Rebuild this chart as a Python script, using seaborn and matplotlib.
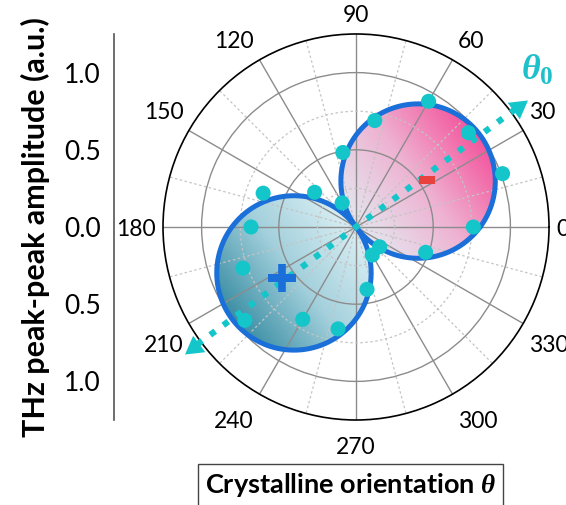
import numpy as np
import matplotlib
matplotlib.use("Agg")
import matplotlib.pyplot as plt
from matplotlib.colors import LinearSegmentedColormap
import seaborn as sns

# Peak-peak THz amplitude measured every 20 degrees of crystalline orientation
ANGLES_DEG = [0, 20, 40, 60, 80, 100, 120, 140, 160,
              180, 200, 220, 240, 260, 280, 300, 320, 340]
AMPLITUDE = [0.76, 1.01, 0.95, 0.94, 0.70, 0.49, 0.18, 0.35, 0.64,
             0.68, 0.78, 0.94, 0.69, 0.67, 0.41, 0.21, 0.20, 0.48]

# |cos(theta - theta0)| fit of the two lobes
FIT_AMPLITUDE = 1.0
THETA0_DEG = 36.5

THETA_TICKS = list(range(0, 360, 30))
THETA_MINOR = list(range(15, 360, 30))
THETA_TICK_LABELS = [str(a) for a in THETA_TICKS]
R_TICKS = [-1.0, -0.5, 0.0, 0.5, 1.0]
R_TICK_LABELS = ["1.0", "0.5", "0.0", "0.5", "1.0"]
R_MINOR = [-1.25, -0.75, -0.25, 0.25, 0.75, 1.25]
R_MAX = 1.25

CYAN = "#14c6c9"
BLUE = "#1b6fd9"
RED = "#e8413e"

sns.set_theme(style="white")
plt.rcParams["font.family"] = ["Lato", "DejaVu Sans"]
plt.rcParams["mathtext.fontset"] = "custom"
plt.rcParams["mathtext.it"] = "Liberation Serif:italic:bold"
plt.rcParams["mathtext.rm"] = "Liberation Serif:bold"
plt.rcParams["mathtext.bf"] = "Liberation Serif:bold"

fig = plt.figure(figsize=(5.66, 5.05), dpi=100)
ax = fig.add_axes([0.2880, 0.1683, 0.6820, 0.7644], projection="polar")

th0 = np.deg2rad(THETA0_DEG)

# gradient-filled lobes, shaded along the lobe axis
pink = LinearSegmentedColormap.from_list("lobe_pos", ["#e4e7f0", "#eeb3d2", "#f3559d"])
teal = LinearSegmentedColormap.from_list("lobe_neg", ["#dbeff4", "#a3d0dc", "#3b8ea4"])
for offset, cmap in ((0.0, pink), (np.pi, teal)):
    axis_dir = th0 + offset
    t = axis_dir + np.linspace(-np.pi / 2, np.pi / 2, 181)
    s = np.linspace(0, 1, 60)
    T, S = np.meshgrid(t, s)
    R = S * FIT_AMPLITUDE * np.cos(T - axis_dir)
    P = R * np.cos(T - axis_dir)
    ax.pcolormesh(T, R, P, cmap=cmap, vmin=0, vmax=FIT_AMPLITUDE,
                  shading="gouraud", zorder=1)

# fitted outline of both lobes
tt = np.linspace(0, 2 * np.pi, 721)
ax.plot(tt, FIT_AMPLITUDE * np.abs(np.cos(tt - th0)), color=BLUE, lw=3.6, zorder=3)

# measured points
sns.scatterplot(x=np.deg2rad(ANGLES_DEG), y=AMPLITUDE, ax=ax, s=118,
                color=CYAN, edgecolor="none", zorder=4, legend=False)

# theta0 axis: dotted double arrow through the origin
ARROW_R = 1.38
line_r = ARROW_R - 0.1
ax.plot([th0 + np.pi, th0 + np.pi, th0, th0], [line_r, 0, 0, line_r],
        color=CYAN, lw=4.5, ls=(0, (1, 1.6)), zorder=5, clip_on=False)
for direction in (th0, th0 + np.pi):
    ax.plot([direction], [ARROW_R - 0.075], marker=(3, 0, np.rad2deg(direction) - 90),
            ms=17, color=CYAN, mec="none", ls="none", zorder=5, clip_on=False)
ax.annotate(r"$\theta_0$", xy=(th0, ARROW_R), xytext=(7, 22), textcoords="offset points",
            ha="center", va="center", fontsize=26, color="#1ec0ca", annotation_clip=False)

# polarity signs of the lobes
ax.plot([th0 + np.pi - np.deg2rad(2)], [0.58], marker="+", ms=20, mew=5.5,
        color=BLUE, ls="none", zorder=6)
ax.plot([th0 - np.deg2rad(3)], [0.55], marker="_", ms=11, mew=4.4,
        color=RED, ls="none", zorder=6)

# polar frame and grid
ax.set_ylim(0, R_MAX)
ax.set_xticks(np.deg2rad(THETA_TICKS))
ax.set_xticks(np.deg2rad(THETA_MINOR), minor=True)
ax.set_xticklabels([])
ax.set_yticks([0.5, 1.0])
ax.set_yticks([0.25, 0.75], minor=True)
ax.set_yticklabels([])
ax.grid(which="major", color="#8c8c8c", lw=1.0, ls="-")
ax.grid(which="minor", color="#c4c4c4", lw=0.9, ls=(0, (2, 2)))
ax.set_axisbelow("line")
ax.spines["polar"].set(color="black", lw=1.2)
ax.tick_params(axis="x", which="both", direction="in", length=5, width=1.0,
               color="black", pad=0)
ax.tick_params(axis="y", which="both", length=0)

# angle labels just outside the frame
for ang, lab in zip(THETA_TICKS, THETA_TICK_LABELS):
    c, s = np.cos(np.deg2rad(ang)), np.sin(np.deg2rad(ang))
    if c > 0.2:
        ha, dx = "left", 4.0
    elif c < -0.2:
        ha, dx = "right", -4.0
    else:
        ha, dx = "center", 0
    if s > 0.2:
        va, dy = "bottom", 5.5
    elif s < -0.2:
        va, dy = "top", -8.5 if abs(c) > 0.6 else -12.0
    else:
        va, dy = "center", -2.0
    if abs(s) < 0.2:
        dx = 5.0 * np.sign(c)
    ax.annotate(lab, xy=(np.deg2rad(ang), R_MAX), xytext=(dx, dy), textcoords="offset points",
                ha=ha, va=va, fontsize=16.5, color="black", annotation_clip=False)

# amplitude scale on the left
lax = fig.add_axes([114 / 566, 0.1683, 0.0001, 0.7644])
lax.set_ylim(-R_MAX, R_MAX)
lax.set_yticks(R_TICKS)
lax.set_yticklabels(R_TICK_LABELS)
lax.set_yticks(R_MINOR, minor=True)
lax.set_xticks([])
for sp in ("top", "right", "bottom"):
    lax.spines[sp].set_visible(False)
lax.spines["left"].set(color="#555555", lw=1.2)
lax.patch.set_alpha(0)
lax.tick_params(axis="y", which="major", direction="out", length=5, width=1.2,
                color="#555555", labelsize=19, pad=4.5, labelcolor="black")
lax.tick_params(axis="y", which="minor", direction="out", length=3, width=1.2,
                color="#555555")
lax.set_ylabel("THz peak-peak amplitude (a.u.)", fontsize=22, fontweight="bold",
               labelpad=10, color="black")

fig.text(350.5 / 566, 1 - 485 / 505, r"Crystalline orientation $\theta$",
         ha="center", va="center", fontsize=19.5, fontweight="bold", color="black",
         bbox=dict(boxstyle="square,pad=0.25", fc="white", ec="#444444", lw=1.0))

fig.savefig("out.png", dpi=100)
